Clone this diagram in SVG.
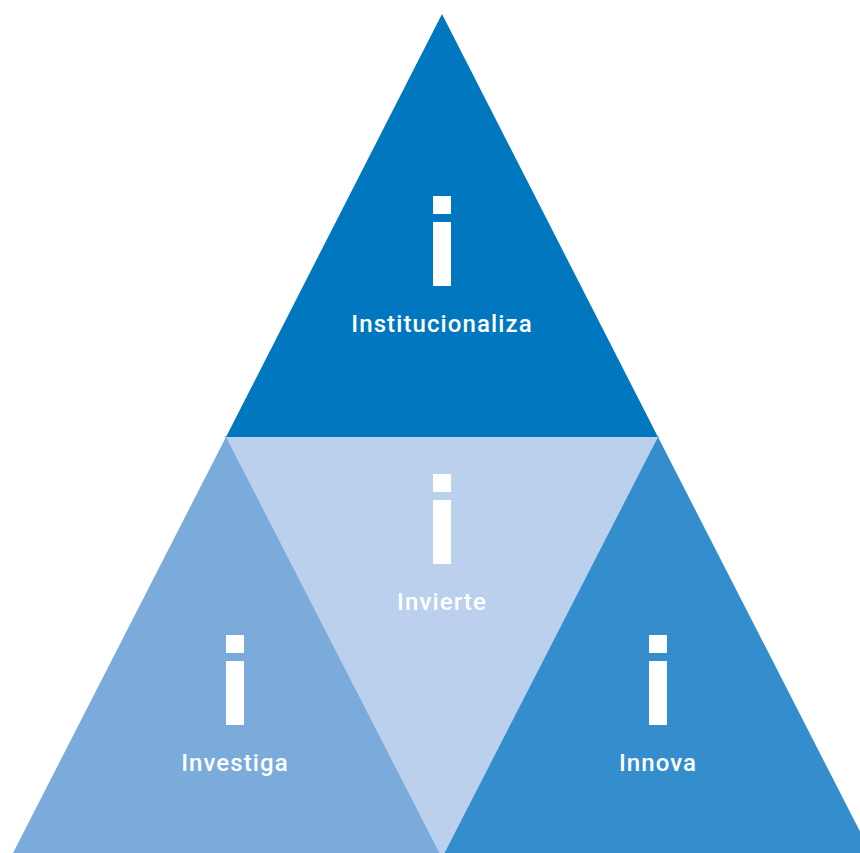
<svg xmlns="http://www.w3.org/2000/svg" width="860" height="853" viewBox="0 0 860 853">
<style>
.lbl{font-family:Roboto,"Liberation Sans",sans-serif;font-size:24px;font-weight:500;fill:#fff;text-anchor:middle;letter-spacing:1.1px}
.ic{fill:#fff}
</style>
<rect width="860" height="853" fill="#fff"/>
<g id="middle">
<polygon points="224,436 660,436 442,858" fill="#BAD0EC"/>
<rect class="ic" x="433" y="474" width="18" height="18"/>
<rect class="ic" x="433" y="500" width="18" height="64"/>
<text class="lbl" x="442" y="610">Invierte</text>
</g>
<g id="top">
<polygon points="442,14 658,437 226,437" fill="#0077BF"/>
<rect class="ic" x="433" y="196" width="18" height="18"/>
<rect class="ic" x="433" y="222" width="18" height="64"/>
<text class="lbl" x="442" y="332">Institucionaliza</text>
</g>
<g id="left">
<polygon points="226,437 439.5,853 13,853" fill="#7BABDA"/>
<rect class="ic" x="226" y="635" width="18" height="18"/>
<rect class="ic" x="226" y="661" width="18" height="64"/>
<text class="lbl" x="235" y="771">Investiga</text>
</g>
<g id="right">
<polygon points="658,437 871,853 444.5,853" fill="#348ECD"/>
<rect class="ic" x="649" y="635" width="18" height="18"/>
<rect class="ic" x="649" y="661" width="18" height="64"/>
<text class="lbl" x="658" y="771">Innova</text>
</g>
<g id="connectors"/>
</svg>
